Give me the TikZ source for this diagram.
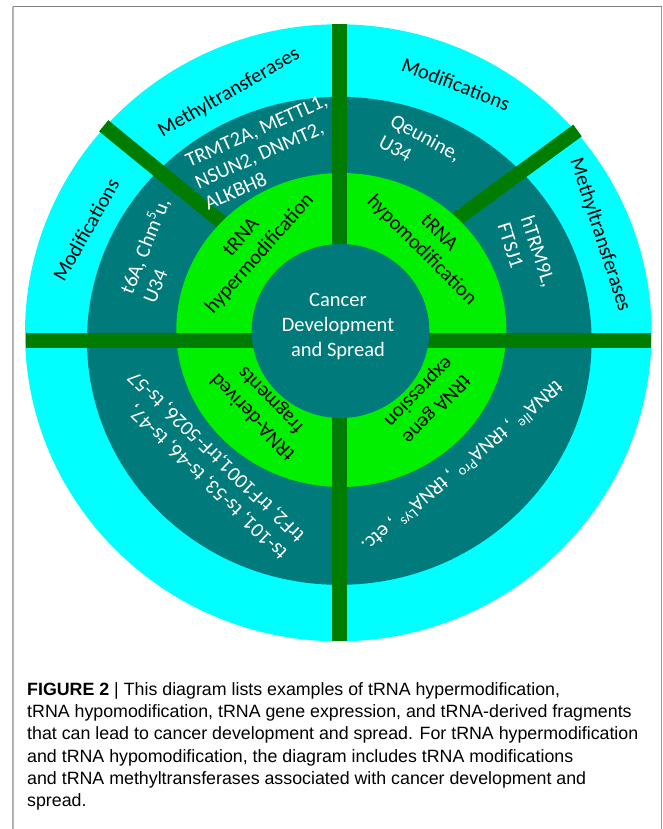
\documentclass[tikz,border=0pt]{standalone}
\usepackage{fontspec}
\setmainfont{Carlito}
\newfontfamily\capfont{Liberation Sans}
\usepackage{xcolor}
\usepackage{tikz}

\definecolor{ringcyan}{RGB}{0,255,255}
\definecolor{ringteal}{RGB}{0,122,122}
\definecolor{ringlime}{RGB}{0,240,0}
\definecolor{bargreen}{RGB}{0,125,0}

\tikzstyle{bar} = [bargreen, line width=14.4pt]
\tikzstyle{darklabel} = [black, inner sep=0pt]
\tikzstyle{lightlabel} = [white, inner sep=0pt]
\tikzstyle{capline} = [anchor=base west, inner sep=0pt, font=\capfont\fontsize{17.8}{22.3}\selectfont]

\begin{document}
\begin{tikzpicture}[x=1pt,y=1pt]
	\useasboundingbox (0,0) rectangle (663,-829);
	\begin{scope}[font=\fontsize{20.5}{24.5}\selectfont]
		
		% Frame:
		\draw[gray!60, line width=2pt] (12.7,-829) -- (12.7,-7);
		\draw[gray, line width=1pt] (12.7,-7) -- (661.5,-7);
		\draw[gray!80, line width=1.2pt] (661.5,-7) -- (661.5,-829);
		
		% Rings:
		% Drawn from the outside in, the bars go between them
		\fill[ringcyan] (338.3,-332.8) ellipse [x radius=313.3, y radius=308.5];
		\fill[ringteal] (339.3,-340.8) ellipse [x radius=252.3, y radius=244];
		\draw[bar] (103.7,-125.8) -- (258.5,-252.4);
		\draw[bar] (577.5,-130.5) -- (416.3,-248.7);
		\fill[ringlime] (341.3,-330) ellipse [x radius=165, y radius=157];
		\draw[bar] (339.5,-24.3) -- (339.5,-641.3);
		\draw[bar] (26,-340.5) -- (650.7,-340.5);
		\fill[ringteal] (340.5,-331) ellipse [x radius=88.8, y radius=87];
		
		% Outer ring labels:
		\node[darklabel, rotate=30] (mtleft) at (229,-93) {Methyltransferases};
		\node[darklabel, rotate=-21] (modright) at (456,-84) {Modifications};
		\node[darklabel, rotate=60.5] (modleft) at (86,-230) {Modifications};
		\node[darklabel, rotate=-72] (mtright) at (600,-235) {Methyltransferases};
		
		% Teal ring labels:
		\node[lightlabel, rotate=24, align=left, font=\fontsize{20.5}{23.5}\selectfont] (enzleft) at (266,-152) {TRMT2A, METTL1,\\NSUN2, DNMT2,\\ALKBH8};
		\node[lightlabel, rotate=-28.5, align=left] (qeu) at (420,-148) {Qeunine,\\U34};
		\node[lightlabel, rotate=-72, align=left] (enzright) at (527,-255) {hTRM9L,\\FTSJ1};
		\node[lightlabel, rotate=68, align=left] (modsleft) at (155,-250) {t6A, Chm\textsuperscript{5}u,\\U34};
		\node[lightlabel, rotate=136, align=left] (frags) at (208,-465) {ts-101, ts-53, ts-46, ts-47,\\trF2, trF1001,trF-5026, ts-57};
		\node[lightlabel, rotate=220] (trnas) at (463,-467) {tRNA\textsuperscript{Ile} , tRNA\textsuperscript{Pro} , tRNA\textsuperscript{Lys} , etc.};
		
		% Green ring labels:
		\node[darklabel, rotate=48.5, align=center] (hyper) at (251,-246) {tRNA\\hypermodification};
		\node[darklabel, rotate=-45, align=center] (hypo) at (430,-242) {tRNA\\hypomodification};
		\node[darklabel, rotate=134, align=center] (derived) at (262,-408) {tRNA-derived\\fragments};
		\node[darklabel, rotate=226, align=center] (expr) at (427,-400) {tRNA gene\\expression};
		
		% Centre:
		\node[lightlabel, align=center, font=\fontsize{20.5}{25}\selectfont] (core) at (338,-326) {Cancer\\Development\\and Spread};
		
	\end{scope}
	
	% Caption:
	\node[capline] (cap1) at (27,-695) {\textbf{FIGURE 2} | This diagram lists examples of tRNA hypermodification,};
	\node[capline] (cap2) at (27,-717.3) {tRNA hypomodification, tRNA gene expression, and tRNA-derived fragments};
	\node[capline] (cap3) at (27,-739.6) {that can lead to cancer development and spread. For tRNA hypermodification};
	\node[capline] (cap4) at (27,-762) {and tRNA hypomodification, the diagram includes tRNA modifications};
	\node[capline] (cap5) at (27,-784.3) {and tRNA methyltransferases associated with cancer development and};
	\node[capline] (cap6) at (27,-806.6) {spread.};
	
\end{tikzpicture}
\end{document}
